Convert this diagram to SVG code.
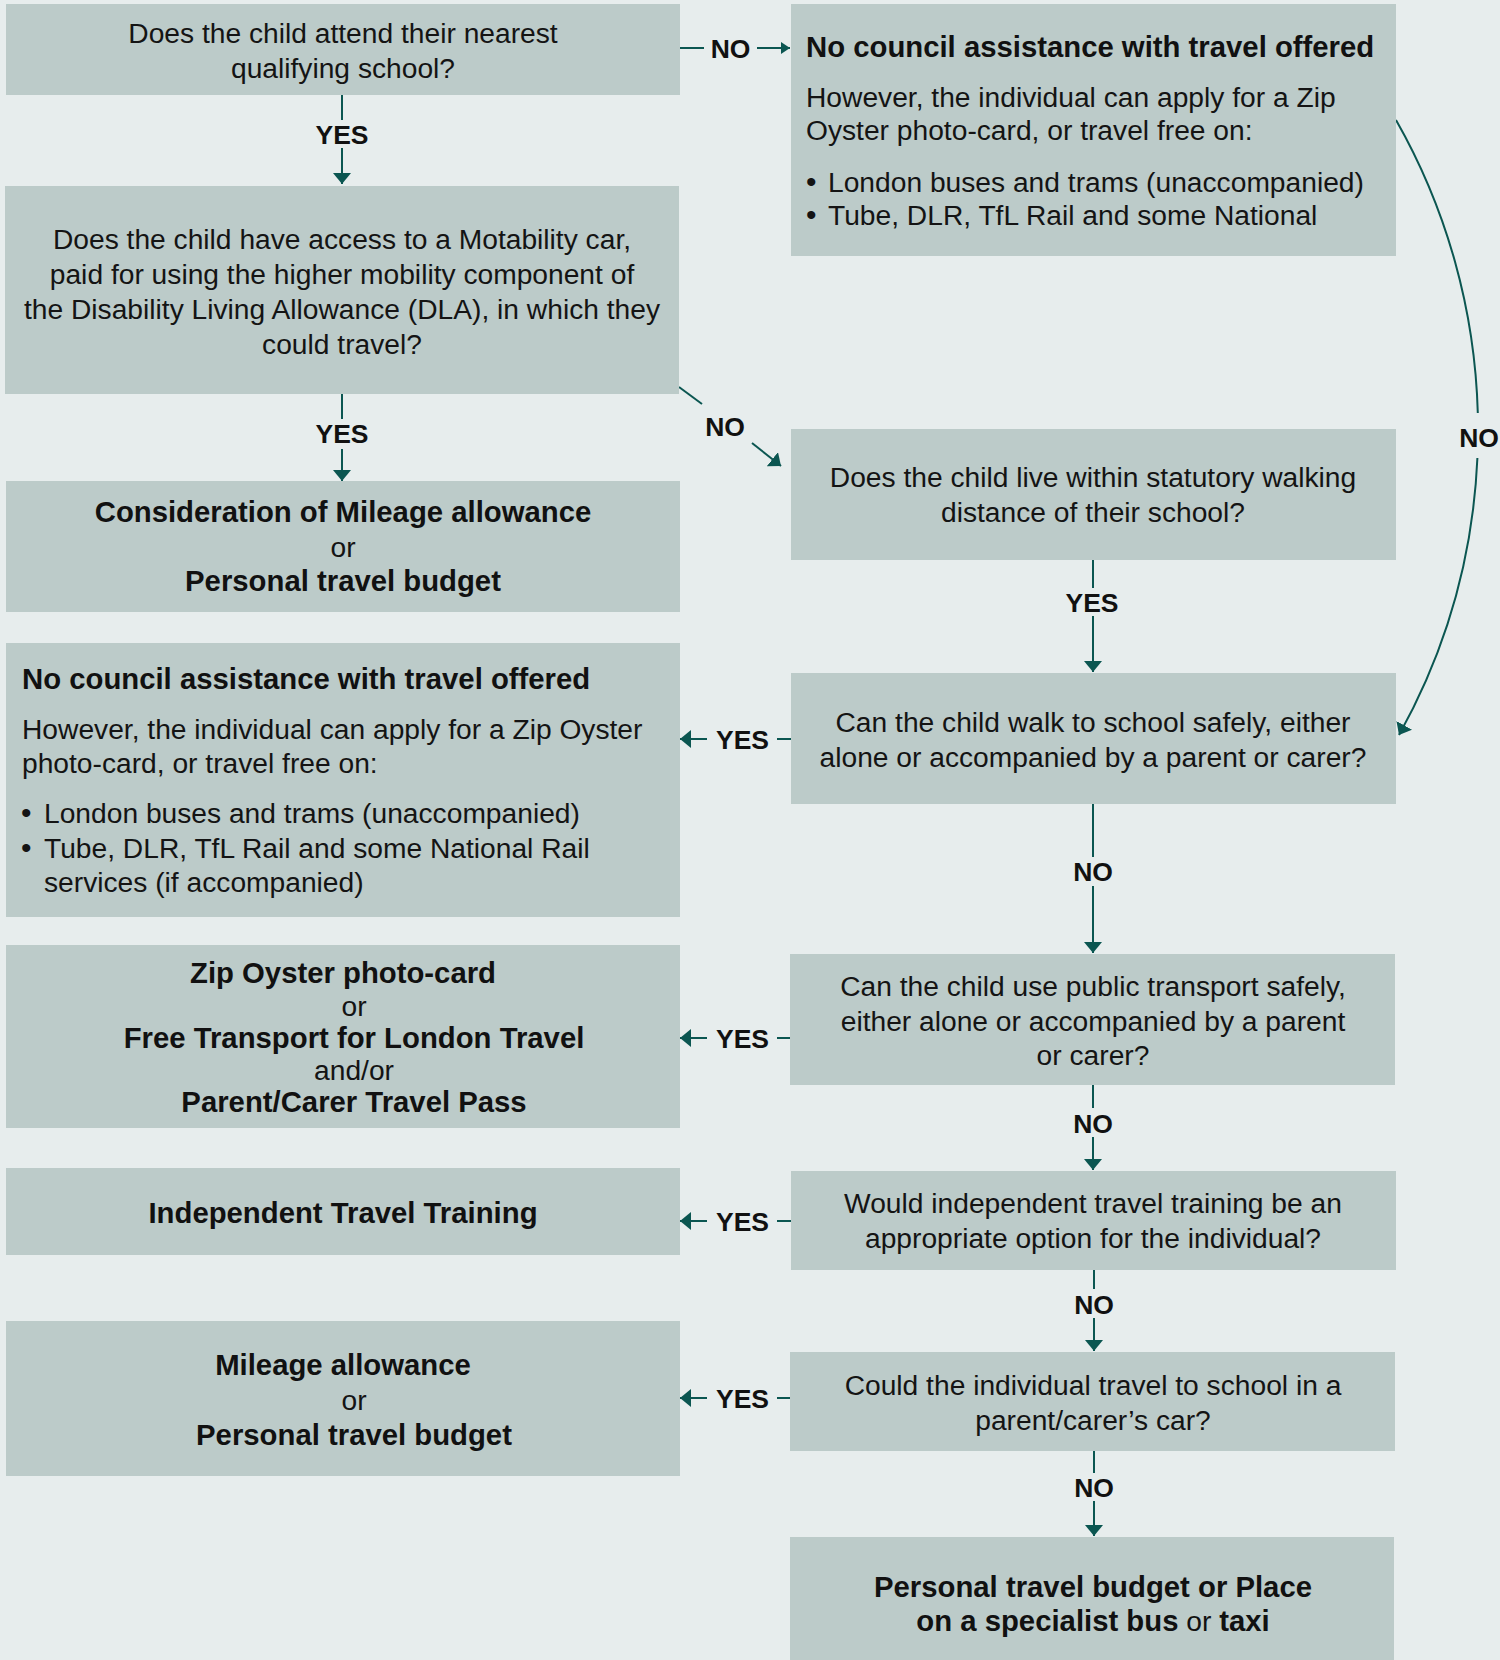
<svg xmlns="http://www.w3.org/2000/svg" width="1500" height="1660" viewBox="0 0 1500 1660">
<style>
.bg{fill:#e7eded}
.box{fill:#bccbc9}
.t{font-family:"Liberation Sans",Arial,sans-serif;font-size:28.2px;fill:#141414}
.b{font-family:"Liberation Sans",Arial,sans-serif;font-size:29.3px;font-weight:bold;fill:#111}
.c{text-anchor:middle}
.lbl{font-family:"Liberation Sans",Arial,sans-serif;font-size:26.5px;font-weight:bold;fill:#111;text-anchor:middle}
.ln{stroke:#0b5651;stroke-width:2;fill:none}
.reg{font-weight:normal;font-size:28.2px}
.bul{font-size:30px}
</style>
<defs>
<marker id="ah" markerUnits="userSpaceOnUse" markerWidth="12" markerHeight="18" refX="11" refY="9" orient="auto">
<path d="M0,0 L11,9 L0,18 z" fill="#0b5651"/>
</marker>
<marker id="ahs" markerUnits="userSpaceOnUse" markerWidth="10" markerHeight="12" refX="9" refY="6" orient="auto">
<path d="M0,0 L9,6 L0,12 z" fill="#0b5651"/>
</marker>
</defs>
<rect class="bg" x="0" y="0" width="1500" height="1660"/>

<g id="connectors">
<path class="ln" d="M342,95 V120"/>
<path class="ln" d="M342,148 V184" marker-end="url(#ah)"/>
<text class="lbl" x="342" y="144">YES</text>
<path class="ln" d="M680,48 H704"/>
<path class="ln" d="M757,48 H790" marker-end="url(#ahs)"/>
<text class="lbl" x="730.5" y="57.5">NO</text>
<path class="ln" d="M342,394 V419"/>
<path class="ln" d="M342,449 V481" marker-end="url(#ah)"/>
<text class="lbl" x="342" y="442.5">YES</text>
<path class="ln" d="M679,387 L702,404"/>
<path class="ln" d="M752,443 L781,466" marker-end="url(#ah)"/>
<text class="lbl" x="725" y="435.5">NO</text>
<path class="ln" d="M1396,120 A627,627 0 0 1 1477.8,413"/>
<path class="ln" d="M1477.4,458 A627,627 0 0 1 1399,735" marker-end="url(#ah)"/>
<text class="lbl" x="1479" y="446.5">NO</text>
<path class="ln" d="M1093,560 V588"/>
<path class="ln" d="M1093,616 V672" marker-end="url(#ah)"/>
<text class="lbl" x="1092" y="612">YES</text>
<path class="ln" d="M791,739 H777"/>
<path class="ln" d="M707,739 H680" marker-end="url(#ah)"/>
<text class="lbl" x="742.5" y="748.5">YES</text>
<path class="ln" d="M1093,804 V857"/>
<path class="ln" d="M1093,886 V953" marker-end="url(#ah)"/>
<text class="lbl" x="1093" y="880.5">NO</text>
<path class="ln" d="M790,1038 H777"/>
<path class="ln" d="M707,1038 H680" marker-end="url(#ah)"/>
<text class="lbl" x="742.5" y="1047.5">YES</text>
<path class="ln" d="M1093,1085 V1108"/>
<path class="ln" d="M1093,1137 V1170" marker-end="url(#ah)"/>
<text class="lbl" x="1093" y="1132.5">NO</text>
<path class="ln" d="M791,1221 H777"/>
<path class="ln" d="M707,1221 H680" marker-end="url(#ah)"/>
<text class="lbl" x="742.5" y="1230.5">YES</text>
<path class="ln" d="M1094,1270 V1289"/>
<path class="ln" d="M1094,1318 V1351" marker-end="url(#ah)"/>
<text class="lbl" x="1094" y="1313.5">NO</text>
<path class="ln" d="M790,1398 H777"/>
<path class="ln" d="M707,1398 H680" marker-end="url(#ah)"/>
<text class="lbl" x="742.5" y="1407.5">YES</text>
<path class="ln" d="M1094,1451 V1473"/>
<path class="ln" d="M1094,1501 V1536" marker-end="url(#ah)"/>
<text class="lbl" x="1094" y="1496.5">NO</text>
</g>

<g id="q-nearest-school">
<rect class="box" x="6" y="4" width="674" height="91"/>
<text class="t c" x="343" y="43">Does the child attend their nearest</text>
<text class="t c" x="343" y="78">qualifying school?</text>
</g>

<g id="q-motability">
<rect class="box" x="5" y="186" width="674" height="208"/>
<text class="t c" x="342" y="249">Does the child have access to a Motability car,</text>
<text class="t c" x="342" y="284">paid for using the higher mobility component of</text>
<text class="t c" x="342" y="319">the Disability Living Allowance (DLA), in which they</text>
<text class="t c" x="342" y="354">could travel?</text>
</g>

<g id="no-assistance-top">
<rect class="box" x="791" y="4" width="605" height="252"/>
<text class="b" x="806" y="57">No council assistance with travel offered</text>
<text class="t" x="806" y="106.5">However, the individual can apply for a Zip</text>
<text class="t" x="806" y="140">Oyster photo-card, or travel free on:</text>
<text class="t" y="191.5"><tspan class="bul" x="806">•</tspan><tspan x="828">London buses and trams (unaccompanied)</tspan></text>
<text class="t" y="225"><tspan class="bul" x="806">•</tspan><tspan x="828">Tube, DLR, TfL Rail and some National</tspan></text>
</g>

<g id="q-walking-distance">
<rect class="box" x="791" y="429" width="605" height="131"/>
<text class="t c" x="1093" y="487">Does the child live within statutory walking</text>
<text class="t c" x="1093" y="521.5">distance of their school?</text>
</g>

<g id="mileage-consideration">
<rect class="box" x="6" y="481" width="674" height="131"/>
<text class="b c" x="343" y="522">Consideration of Mileage allowance</text>
<text class="t c" x="343" y="557">or</text>
<text class="b c" x="343" y="591">Personal travel budget</text>
</g>

<g id="no-assistance-left">
<rect class="box" x="6" y="643" width="674" height="274"/>
<text class="b" x="22" y="689">No council assistance with travel offered</text>
<text class="t" x="22" y="739">However, the individual can apply for a Zip Oyster</text>
<text class="t" x="22" y="773">photo-card, or travel free on:</text>
<text class="t" y="823"><tspan class="bul" x="21">•</tspan><tspan x="44">London buses and trams (unaccompanied)</tspan></text>
<text class="t" y="858"><tspan class="bul" x="21">•</tspan><tspan x="44">Tube, DLR, TfL Rail and some National Rail</tspan></text>
<text class="t" x="44" y="892">services (if accompanied)</text>
</g>

<g id="q-walk-safely">
<rect class="box" x="791" y="673" width="605" height="131"/>
<text class="t c" x="1093" y="731.5">Can the child walk to school safely, either</text>
<text class="t c" x="1093" y="766.5">alone or accompanied by a parent or carer?</text>
</g>

<g id="zip-oyster">
<rect class="box" x="6" y="945" width="674" height="183"/>
<text class="b c" x="343" y="983">Zip Oyster photo-card</text>
<text class="t c" x="354" y="1016">or</text>
<text class="b c" x="354" y="1047.5">Free Transport for London Travel</text>
<text class="t c" x="354" y="1079.5">and/or</text>
<text class="b c" x="354" y="1112">Parent/Carer Travel Pass</text>
</g>

<g id="q-public-transport">
<rect class="box" x="790" y="954" width="605" height="131"/>
<text class="t c" x="1093" y="996">Can the child use public transport safely,</text>
<text class="t c" x="1093" y="1030.5">either alone or accompanied by a parent</text>
<text class="t c" x="1093" y="1065">or carer?</text>
</g>

<g id="travel-training">
<rect class="box" x="6" y="1168" width="674" height="87"/>
<text class="b c" x="343" y="1223">Independent Travel Training</text>
</g>

<g id="q-travel-training">
<rect class="box" x="791" y="1171" width="605" height="99"/>
<text class="t c" x="1093" y="1213">Would independent travel training be an</text>
<text class="t c" x="1093" y="1248">appropriate option for the individual?</text>
</g>

<g id="mileage-allowance">
<rect class="box" x="6" y="1321" width="674" height="155"/>
<text class="b c" x="343" y="1375">Mileage allowance</text>
<text class="t c" x="354" y="1410">or</text>
<text class="b c" x="354" y="1445">Personal travel budget</text>
</g>

<g id="q-parent-car">
<rect class="box" x="790" y="1352" width="605" height="99"/>
<text class="t c" x="1093" y="1395">Could the individual travel to school in a</text>
<text class="t c" x="1093" y="1430">parent/carer’s car?</text>
</g>

<g id="specialist-transport">
<rect class="box" x="790" y="1537" width="604" height="123"/>
<text class="b c" x="1093" y="1597">Personal travel budget or Place</text>
<text class="b c" x="1093" y="1631">on a specialist bus<tspan class="reg"> or </tspan>taxi</text>
</g>
</svg>
